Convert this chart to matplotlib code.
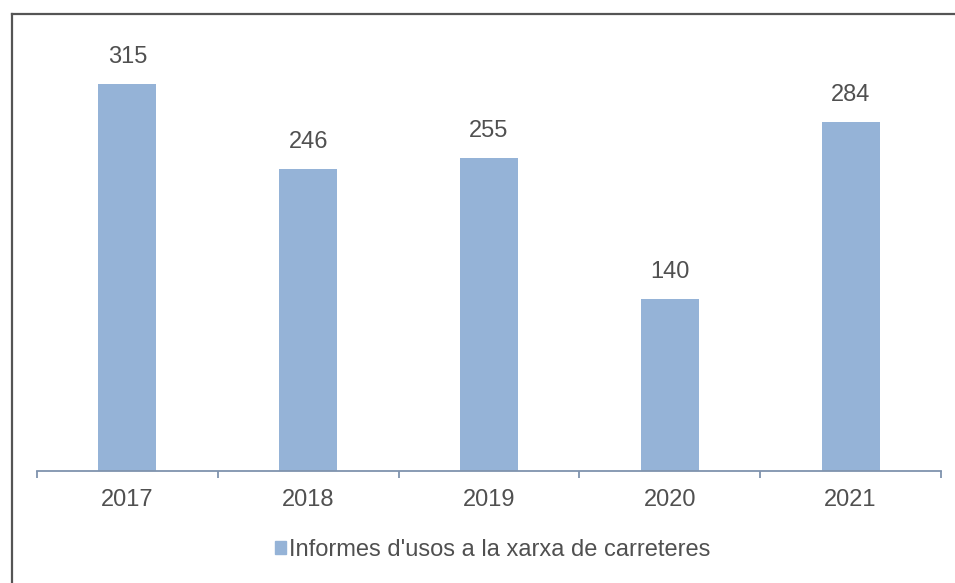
import matplotlib.pyplot as plt
from matplotlib.lines import Line2D
from matplotlib.patches import Patch

plt.rcParams['font.family'] = ['Liberation Sans', 'DejaVu Sans']

years = ['2017', '2018', '2019', '2020', '2021']
informes = [315, 246, 255, 140, 284]
serie = "Informes d'usos a la xarxa de carreteres"

bar_color = '#95B3D7'
text_color = '#505050'
axis_color = '#7F93AE'

fig = plt.figure(figsize=(9.55, 5.83), dpi=100)

# outer frame (only left and top edges visible in the reference)
fig.add_artist(Line2D([12 / 955, 12 / 955], [0, 1 - 14 / 583], transform=fig.transFigure,
                      color='#555555', lw=1.6))
fig.add_artist(Line2D([12 / 955, 1], [1 - 14 / 583, 1 - 14 / 583], transform=fig.transFigure,
                      color='#555555', lw=1.6))

ax = fig.add_axes([37 / 955, 1 - 471 / 583, (941 - 37) / 955, (471 - 41) / 583])
x = list(range(len(years)))
bars = ax.bar(x, informes, width=0.32, color=bar_color, label=serie)

ax.set_xlim(-0.5, len(years) - 0.5)
ax.set_ylim(0, 350)

for b, v in zip(bars, informes):
    ax.text(b.get_x() + b.get_width() / 2, v + 13, str(v), ha='center', va='bottom',
            fontsize=17, color=text_color)

for s in ['top', 'right', 'left']:
    ax.spines[s].set_visible(False)
ax.spines['bottom'].set_color(axis_color)
ax.spines['bottom'].set_linewidth(1.3)
ax.set_yticks([])

# category labels, tick marks at category boundaries
ax.set_xticks([i - 0.5 for i in range(len(years) + 1)], minor=False)
ax.set_xticklabels([])
ax.tick_params(axis='x', which='major', direction='out', length=5, width=1.3, color=axis_color)
ax.set_xticks(x, minor=True)
ax.set_xticklabels(years, minor=True, fontsize=17, color=text_color)
ax.tick_params(axis='x', which='minor', length=0, pad=13)

leg = fig.legend(handles=[Patch(color=bar_color, label=serie)], loc='center',
                 bbox_to_anchor=(0.516, 1 - 550 / 583), frameon=False, fontsize=17,
                 handlelength=0.45, handleheight=0.45, handletextpad=0.15,
                 labelcolor=text_color)

fig.savefig('out.png', dpi=100)
